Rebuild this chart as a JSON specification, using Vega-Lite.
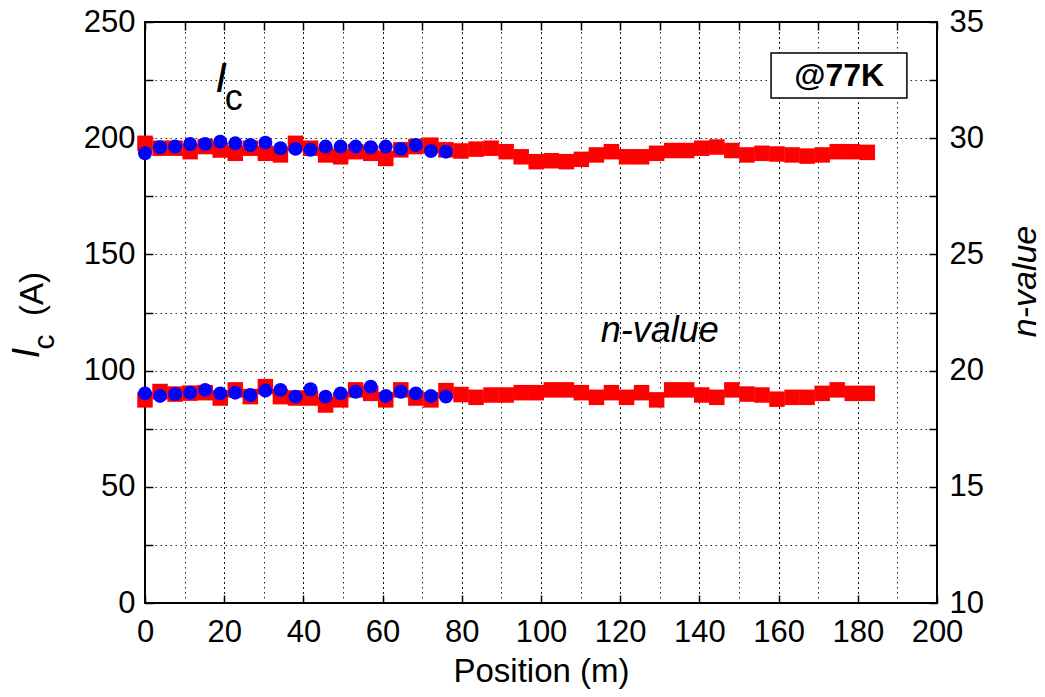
{
  "$schema": "https://vega.github.io/schema/vega-lite/v6.json",
  "width": 792,
  "height": 581,
  "autosize": "none",
  "padding": {"left": 145, "top": 22, "right": 108, "bottom": 94},
  "background": "white",
  "config": {
    "font": "Liberation Sans",
    "view": {"stroke": "#000", "strokeWidth": 2},
    "axis": {
      "labelFont": "Liberation Sans",
      "titleFont": "Liberation Sans",
      "labelFontSize": 31,
      "labelColor": "#000",
      "titleColor": "#000",
      "titleFontWeight": "normal",
      "tickColor": "#000",
      "tickWidth": 1.5,
      "domain": false,
      "gridColor": "#000",
      "gridDash": [1.5, 3.5],
      "gridOpacity": 0.85,
      "gridWidth": 1,
      "labelFlush": false,
      "labelOverlap": false
    }
  },
  "data": {
    "values": [
      {"position": 0, "series": "1", "ic": 197.8, "n": 18.74},
      {"position": 3.8, "series": "1", "ic": 195.7, "n": 19.1},
      {"position": 7.6, "series": "1", "ic": 195.7, "n": 18.99},
      {"position": 11.4, "series": "1", "ic": 194.2, "n": 19.03},
      {"position": 15.2, "series": "1", "ic": 196.4, "n": 19.05},
      {"position": 19, "series": "1", "ic": 194.9, "n": 18.82},
      {"position": 22.8, "series": "1", "ic": 193.5, "n": 19.17},
      {"position": 26.6, "series": "1", "ic": 195.7, "n": 18.88},
      {"position": 30.4, "series": "1", "ic": 193.5, "n": 19.31},
      {"position": 34.2, "series": "1", "ic": 192.8, "n": 18.88},
      {"position": 38, "series": "1", "ic": 197.8, "n": 18.82},
      {"position": 41.8, "series": "1", "ic": 195.7, "n": 18.82},
      {"position": 45.6, "series": "1", "ic": 192.8, "n": 18.52},
      {"position": 49.4, "series": "1", "ic": 192.0, "n": 18.74},
      {"position": 53.2, "series": "1", "ic": 194.2, "n": 19.17},
      {"position": 57, "series": "1", "ic": 193.5, "n": 19.02},
      {"position": 60.8, "series": "1", "ic": 191.3, "n": 18.74},
      {"position": 64.6, "series": "1", "ic": 195.0, "n": 19.17},
      {"position": 68.4, "series": "1", "ic": 196.4, "n": 18.82},
      {"position": 72.2, "series": "1", "ic": 197.0, "n": 18.74},
      {"position": 76, "series": "1", "ic": 195.0, "n": 19.14},
      {"position": 79.8, "series": "1", "ic": 194.5, "n": 18.97},
      {"position": 83.6, "series": "1", "ic": 195.3, "n": 18.85},
      {"position": 87.4, "series": "1", "ic": 195.7, "n": 18.95},
      {"position": 91.2, "series": "1", "ic": 194.2, "n": 18.95},
      {"position": 95, "series": "1", "ic": 192.0, "n": 19.05},
      {"position": 98.8, "series": "1", "ic": 189.9, "n": 19.05},
      {"position": 102.6, "series": "1", "ic": 190.3, "n": 19.17},
      {"position": 106.4, "series": "1", "ic": 189.9, "n": 19.17},
      {"position": 110.2, "series": "1", "ic": 190.9, "n": 19.05},
      {"position": 114, "series": "1", "ic": 192.8, "n": 18.85},
      {"position": 117.8, "series": "1", "ic": 194.2, "n": 19.05},
      {"position": 121.6, "series": "1", "ic": 192.0, "n": 18.85},
      {"position": 125.4, "series": "1", "ic": 192.0, "n": 19.05},
      {"position": 129.2, "series": "1", "ic": 193.5, "n": 18.74},
      {"position": 133, "series": "1", "ic": 194.7, "n": 19.17},
      {"position": 136.8, "series": "1", "ic": 194.7, "n": 19.17},
      {"position": 140.6, "series": "1", "ic": 195.7, "n": 18.95},
      {"position": 144.4, "series": "1", "ic": 196.2, "n": 18.85},
      {"position": 148.2, "series": "1", "ic": 194.7, "n": 19.17},
      {"position": 152, "series": "1", "ic": 192.8, "n": 18.99},
      {"position": 155.8, "series": "1", "ic": 193.5, "n": 18.95},
      {"position": 159.6, "series": "1", "ic": 193.2, "n": 18.77},
      {"position": 163.4, "series": "1", "ic": 192.8, "n": 18.85},
      {"position": 167.2, "series": "1", "ic": 192.3, "n": 18.85},
      {"position": 171, "series": "1", "ic": 192.8, "n": 19.02},
      {"position": 174.8, "series": "1", "ic": 194.2, "n": 19.17},
      {"position": 178.6, "series": "1", "ic": 194.2, "n": 19.02},
      {"position": 182.4, "series": "1", "ic": 193.9, "n": 19.02},
      {"position": 0, "series": "2", "ic": 193.5, "n": 19.02},
      {"position": 3.8, "series": "2", "ic": 196.1, "n": 18.91},
      {"position": 7.6, "series": "2", "ic": 196.4, "n": 18.99},
      {"position": 11.4, "series": "2", "ic": 197.5, "n": 19.05},
      {"position": 15.2, "series": "2", "ic": 197.5, "n": 19.17},
      {"position": 19, "series": "2", "ic": 198.5, "n": 19.02},
      {"position": 22.8, "series": "2", "ic": 197.8, "n": 19.05},
      {"position": 26.6, "series": "2", "ic": 197.1, "n": 18.95},
      {"position": 30.4, "series": "2", "ic": 198.1, "n": 19.14},
      {"position": 34.2, "series": "2", "ic": 195.7, "n": 19.17},
      {"position": 38, "series": "2", "ic": 195.4, "n": 18.88},
      {"position": 41.8, "series": "2", "ic": 195.0, "n": 19.2},
      {"position": 45.6, "series": "2", "ic": 196.4, "n": 18.88},
      {"position": 49.4, "series": "2", "ic": 196.4, "n": 19.02},
      {"position": 53.2, "series": "2", "ic": 196.4, "n": 19.09},
      {"position": 57, "series": "2", "ic": 196.1, "n": 19.31},
      {"position": 60.8, "series": "2", "ic": 196.4, "n": 18.91},
      {"position": 64.6, "series": "2", "ic": 195.4, "n": 19.09},
      {"position": 68.4, "series": "2", "ic": 197.1, "n": 19.02},
      {"position": 72.2, "series": "2", "ic": 194.5, "n": 18.91},
      {"position": 76, "series": "2", "ic": 194.2, "n": 18.88}
    ]
  },
  "layer": [
    {
      "layer": [
        {
          "mark": {"type": "point", "filled": true, "opacity": 1},
          "encoding": {
            "x": {
              "field": "position", "type": "quantitative",
              "scale": {"domain": [0, 200], "nice": false, "zero": false},
              "axis": {
                "orient": "bottom",
                "values": [0, 10, 20, 30, 40, 50, 60, 70, 80, 90, 100, 110, 120, 130, 140, 150, 160, 170, 180, 190, 200],
                "labelExpr": "datum.value % 20 === 0 ? datum.label : ''",
                "title": "Position (m)",
                "titleFontSize": 33,
                "titlePadding": 8,
                "grid": true,
                "tickSize": -8,
                "labelPadding": 22
              }
            },
            "y": {
              "field": "ic", "type": "quantitative",
              "scale": {"domain": [0, 250], "nice": false, "zero": false},
              "axis": {
                "orient": "left",
                "values": [0, 25, 50, 75, 100, 125, 150, 175, 200, 225, 250],
                "labelExpr": "datum.value % 50 === 0 ? datum.label : ''",
                "title": null,
                "grid": true,
                "tickSize": -8,
                "labelPadding": 18
              }
            },
            "color": {"field": "series", "type": "nominal", "scale": {"domain": ["1", "2"], "range": ["#ff0000", "#0000ff"]}, "legend": null},
            "shape": {"field": "series", "type": "nominal", "scale": {"domain": ["1", "2"], "range": ["square", "circle"]}, "legend": null},
            "size": {"field": "series", "type": "nominal", "scale": {"domain": ["1", "2"], "range": [240, 195]}, "legend": null}
          }
        },
        {
          "data": {"values": [{}]},
          "mark": {"type": "rect", "fill": "white", "stroke": "#000", "strokeWidth": 1.5},
          "encoding": {"x": {"datum": 158.1}, "x2": {"datum": 192.4}, "y": {"datum": 236.7}, "y2": {"datum": 217.3}}
        },
        {
          "data": {"values": [{}]},
          "mark": {"type": "text", "fontSize": 32, "fontWeight": "bold", "color": "#000", "align": "center", "baseline": "middle"},
          "encoding": {"x": {"datum": 175.3}, "y": {"datum": 226.8}, "text": {"value": "@77K"}}
        },
        {
          "data": {"values": [{}]},
          "mark": {"type": "text", "fontSize": 42, "fontStyle": "italic", "color": "#000", "align": "center", "baseline": "middle"},
          "encoding": {"x": {"datum": 19.2}, "y": {"datum": 225.5}, "text": {"value": "I"}}
        },
        {
          "data": {"values": [{}]},
          "mark": {"type": "text", "fontSize": 36, "color": "#000", "align": "center", "baseline": "middle"},
          "encoding": {"x": {"datum": 22.4}, "y": {"datum": 217.0}, "text": {"value": "c"}}
        },
        {
          "data": {"values": [{}]},
          "mark": {"type": "text", "fontSize": 36, "fontStyle": "italic", "color": "#000", "align": "center", "baseline": "middle"},
          "encoding": {"x": {"datum": 130}, "y": {"datum": 117}, "text": {"value": "n-value"}}
        },
        {
          "data": {"values": [{}]},
          "mark": {"type": "text", "fontSize": 38, "fontStyle": "italic", "angle": 270, "color": "#000", "align": "center", "baseline": "middle"},
          "encoding": {"x": {"datum": -29.5}, "y": {"datum": 107.6}, "text": {"value": "I"}}
        },
        {
          "data": {"values": [{}]},
          "mark": {"type": "text", "fontSize": 30, "angle": 270, "color": "#000", "align": "center", "baseline": "middle"},
          "encoding": {"x": {"datum": -25.3}, "y": {"datum": 112.3}, "text": {"value": "c"}}
        },
        {
          "data": {"values": [{}]},
          "mark": {"type": "text", "fontSize": 33, "angle": 270, "color": "#000", "align": "center", "baseline": "middle"},
          "encoding": {"x": {"datum": -28.3}, "y": {"datum": 133}, "text": {"value": "(A)"}}
        }
      ]
    },
    {
      "mark": {"type": "point", "filled": true, "opacity": 1},
      "encoding": {
        "x": {
          "field": "position", "type": "quantitative",
          "scale": {"domain": [0, 200], "nice": false, "zero": false},
          "axis": {
            "orient": "top",
            "values": [0, 10, 20, 30, 40, 50, 60, 70, 80, 90, 100, 110, 120, 130, 140, 150, 160, 170, 180, 190, 200],
            "labels": false,
            "title": null,
            "grid": true,
            "tickSize": -8
          }
        },
        "y": {
          "field": "n", "type": "quantitative",
          "scale": {"domain": [10, 35], "nice": false, "zero": false},
          "axis": {
            "orient": "right",
            "values": [10, 12.5, 15, 17.5, 20, 22.5, 25, 27.5, 30, 32.5, 35],
            "labelExpr": "datum.value % 5 === 0 ? datum.label : ''",
            "title": "n-value",
            "titleFontSize": 34,
            "titleFontStyle": "italic",
            "titleAngle": 270,
            "titlePadding": 59,
            "titleY": 259,
            "grid": false,
            "tickSize": -8,
            "labelPadding": 20
          }
        },
        "color": {"field": "series", "type": "nominal", "scale": {"domain": ["1", "2"], "range": ["#ff0000", "#0000ff"]}, "legend": null},
        "shape": {"field": "series", "type": "nominal", "scale": {"domain": ["1", "2"], "range": ["square", "circle"]}, "legend": null},
        "size": {"field": "series", "type": "nominal", "scale": {"domain": ["1", "2"], "range": [240, 195]}, "legend": null}
      }
    }
  ],
  "resolve": {"scale": {"y": "independent"}, "axis": {"x": "independent", "y": "independent"}}
}
